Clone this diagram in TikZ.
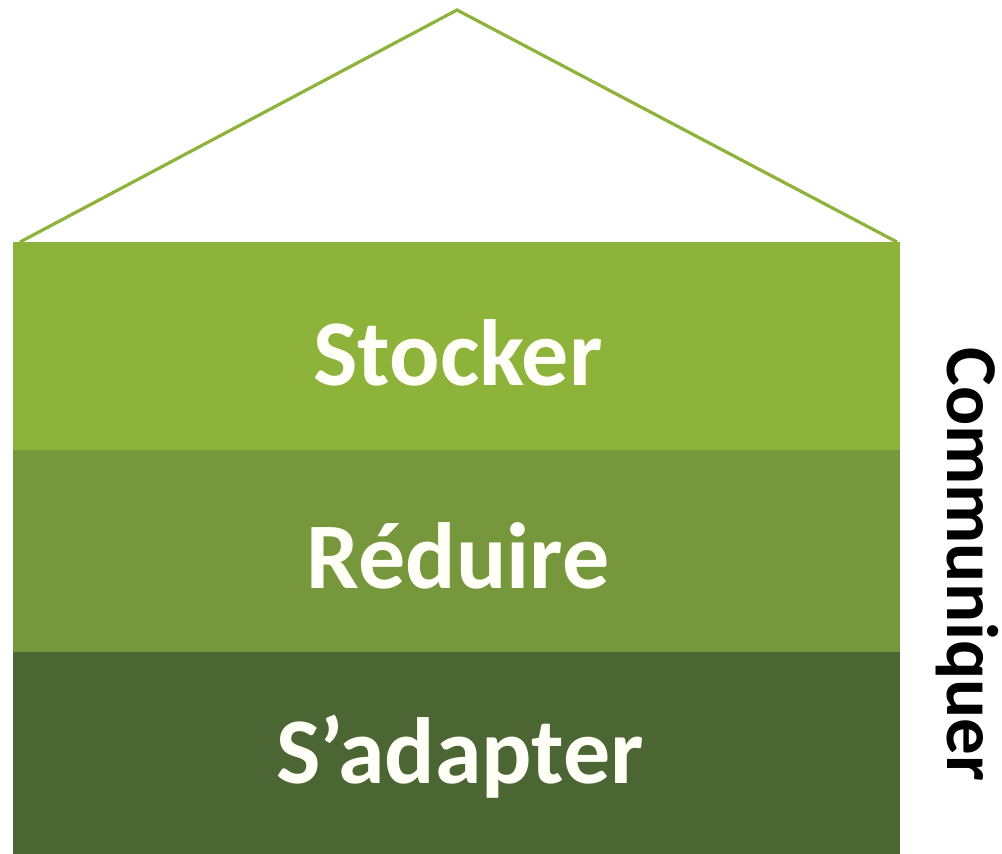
\documentclass[tikz,border=0pt]{standalone}
\usepackage{fontspec}
\setmainfont{Carlito}
\usepackage{tikz}
\usetikzlibrary{positioning, calc}
\definecolor{vertclair}{HTML}{8DB33A}
\definecolor{vertmoyen}{HTML}{77973D}
\definecolor{vertfonce}{HTML}{4B6632}
\begin{document}
\begin{tikzpicture}[
                x=0.5pt, y=-0.5pt,
                band/.style={rectangle, draw=none, inner sep=0pt, minimum width=443.5pt, anchor=north west},
                label/.style={anchor=base, inner sep=0pt, text=white!97!yellow, font=\fontsize{47}{56}\selectfont\bfseries},
                roof/.style={draw=vertclair, line width=1.6pt, line join=miter}
            ]%
            % Cadre
            \useasboundingbox (0,0) rectangle (1002,853);
            %
            % Toit
            \coordinate (roofl) at (20,242);
            \coordinate (apex) at (457,10);
            \coordinate (roofr) at (897,242);
            \draw[roof] (roofl) -- (apex) -- (roofr);
            %
            % Etages
            \node[band, fill=vertclair, minimum height=104.5pt] (stock) at (13,242) {};
            \node[band, fill=vertmoyen, minimum height=101.5pt] (reduce) at (13,450) {};
            \node[band, fill=vertfonce, minimum height=101pt] (adapt) at (13,652) {};
            %
            % Textes
            \node[label] (stocktxt) at (458,385) {Stocker};
            \node[label] (reducetxt) at (458,588) {Réduire};
            \node[label] (adapttxt) at (460,783) {S’adapter};
            %
            % Texte vertical
            \node[anchor=base west, inner sep=0pt, rotate=-90, font=\fontsize{36.5}{44}\selectfont\bfseries] (comm) at (947,347) {Communiquer};
        \end{tikzpicture}
\end{document}
